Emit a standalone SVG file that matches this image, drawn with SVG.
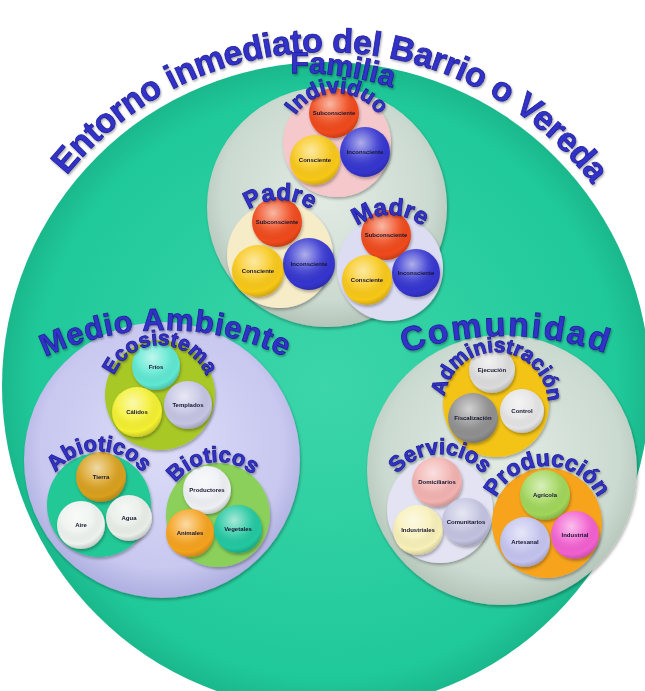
<svg xmlns="http://www.w3.org/2000/svg" xmlns:xlink="http://www.w3.org/1999/xlink" width="645" height="691" viewBox="0 0 645 691">
<style>
.lbl{font-family:"Liberation Sans",Arial,sans-serif;font-weight:bold;fill:#3232c8;stroke:#1f1f98;stroke-width:0.8;}
.t{font-family:"Liberation Sans",Arial,sans-serif;font-weight:bold;font-size:6px;fill:#151530;text-anchor:middle;}
.gl{fill:url(#gloss);}
.sm{filter:url(#sh);}
</style>
<defs>
<radialGradient id="gloss" cx="0.42" cy="0.32" r="0.72">
<stop offset="0" stop-color="#fff" stop-opacity="0.6"/>
<stop offset="0.45" stop-color="#fff" stop-opacity="0.12"/>
<stop offset="0.8" stop-color="#000" stop-opacity="0"/>
<stop offset="1" stop-color="#000" stop-opacity="0.22"/>
</radialGradient>
<radialGradient id="gTeal" cx="0.5" cy="0.5" r="0.5">
<stop offset="0" stop-color="#3cd6aa"/>
<stop offset="0.9" stop-color="#20c99a"/>
<stop offset="1" stop-color="#1ab88c"/>
</radialGradient>
<radialGradient id="gGrey" cx="0.5" cy="0.45" r="0.55">
<stop offset="0" stop-color="#e2ebe4"/>
<stop offset="0.8" stop-color="#cbdad0"/>
<stop offset="1" stop-color="#b3c4b8"/>
</radialGradient>
<radialGradient id="gLav" cx="0.5" cy="0.45" r="0.55">
<stop offset="0" stop-color="#dcdcf8"/>
<stop offset="0.8" stop-color="#c8c8f0"/>
<stop offset="1" stop-color="#aeaee0"/>
</radialGradient>
<filter id="sh" x="-30%" y="-30%" width="160%" height="160%">
<feDropShadow dx="1" dy="2" stdDeviation="1.5" flood-color="#000" flood-opacity="0.3"/>
</filter>
<filter id="tsh" x="-10%" y="-10%" width="120%" height="130%">
<feDropShadow dx="1" dy="1.5" stdDeviation="1" flood-color="#000" flood-opacity="0.35"/>
</filter>
<path id="pTitle" d="M -7.95 380.17 A 334 334 0 0 1 659.95 391.83"/>
<path id="pFam" d="M 3.1 331.25 A 300 300 0 0 1 597.3 414.75"/>
<path id="pInd" d="M 287 143 A 50 50 0 0 1 387 143"/>
<path id="pPad" d="M 225 255 A 55 55 0 0 1 335 255"/>
<path id="pMad" d="M 337 268 A 53 53 0 0 1 443 268"/>
<path id="pMed" d="M -115 610 A 280 280 0 0 1 445 610"/>
<path id="pEco" d="M 110 395 A 50 50 0 0 1 210 395"/>
<path id="pAbi" d="M 45 505 A 54 54 0 0 1 153 505"/>
<path id="pBio" d="M 164.3 520.6 A 54 54 0 0 1 271.7 509.4"/>
<path id="pCom" d="M 205 636 A 300 300 0 0 1 805 636"/>
<path id="pAdm" d="M 444.07 401.28 A 52 52 0 0 1 547.93 406.72"/>
<path id="pSer" d="M 384 510 A 56 56 0 0 1 496 510"/>
<path id="pPro" d="M 490 523 A 57 57 0 0 1 604 523"/>
</defs>
<rect width="645" height="691" fill="#fff"/>
<g id="connectors"></g>
<g id="entorno">
<circle cx="326" cy="386" r="324" fill="url(#gTeal)"/>
<text class="lbl" font-size="34" filter="url(#tsh)"><textPath xlink:href="#pTitle" href="#pTitle" startOffset="50%" text-anchor="middle" textLength="605" lengthAdjust="spacing">Entorno inmediato del Barrio o Vereda</textPath></text>
</g>
<g id="familia">
<circle cx="327" cy="207" r="120" fill="url(#gGrey)" filter="url(#sh)"/>
<g id="individuo">
<circle cx="337" cy="143" r="54" fill="#f5c9cc" filter="url(#sh)"/>
<g id="ind-sub" class="sm"><circle cx="334" cy="113" r="25" fill="#f04a1c"/><circle class="gl" cx="334" cy="113" r="25"/><text class="t" x="334" y="115">Subconsciente</text></g>
<g id="ind-con" class="sm"><circle cx="315" cy="160" r="25" fill="#f8c818"/><circle class="gl" cx="315" cy="160" r="25"/><text class="t" x="315" y="162">Consciente</text></g>
<g id="ind-inc" class="sm"><circle cx="365" cy="152" r="25" fill="#3535d0"/><circle class="gl" cx="365" cy="152" r="25"/><text class="t" x="365" y="154">Inconsciente</text></g>
<text class="lbl" font-size="22" filter="url(#tsh)"><textPath xlink:href="#pInd" href="#pInd" startOffset="50%" text-anchor="middle">Individuo</textPath></text>
</g>
<g id="padre">
<circle cx="280" cy="255" r="53" fill="#f7ecc8" filter="url(#sh)"/>
<g id="pad-sub" class="sm"><circle cx="277" cy="222" r="25" fill="#f04a1c"/><circle class="gl" cx="277" cy="222" r="25"/><text class="t" x="277" y="224">Subconsciente</text></g>
<g id="pad-con" class="sm"><circle cx="258" cy="271" r="26" fill="#f8c818"/><circle class="gl" cx="258" cy="271" r="26"/><text class="t" x="258" y="273">Consciente</text></g>
<g id="pad-inc" class="sm"><circle cx="309" cy="264" r="26" fill="#3535d0"/><circle class="gl" cx="309" cy="264" r="26"/><text class="t" x="309" y="266">Inconsciente</text></g>
<text class="lbl" font-size="24" filter="url(#tsh)"><textPath xlink:href="#pPad" href="#pPad" startOffset="50%" text-anchor="middle">Padre</textPath></text>
</g>
<g id="madre">
<circle cx="390" cy="268" r="53" fill="#dcdcf3" filter="url(#sh)"/>
<g id="mad-sub" class="sm"><circle cx="386" cy="235" r="25" fill="#f04a1c"/><circle class="gl" cx="386" cy="235" r="25"/><text class="t" x="386" y="237">Subconsciente</text></g>
<g id="mad-con" class="sm"><circle cx="367" cy="280" r="25" fill="#f8c818"/><circle class="gl" cx="367" cy="280" r="25"/><text class="t" x="367" y="282">Consciente</text></g>
<g id="mad-inc" class="sm"><circle cx="416" cy="273" r="24" fill="#3535d0"/><circle class="gl" cx="416" cy="273" r="24"/><text class="t" x="416" y="275">Inconsciente</text></g>
<text class="lbl" font-size="24" filter="url(#tsh)"><textPath xlink:href="#pMad" href="#pMad" startOffset="50%" text-anchor="middle">Madre</textPath></text>
</g>
<text class="lbl" font-size="30" filter="url(#tsh)"><textPath xlink:href="#pFam" href="#pFam" startOffset="50%" text-anchor="middle">Familia</textPath></text>
</g>
<g id="medio-ambiente">
<circle cx="162" cy="460" r="138" fill="url(#gLav)" filter="url(#sh)"/>
<g id="ecosistema">
<circle cx="160" cy="395" r="55" fill="#a8c828" filter="url(#sh)"/>
<g id="eco-frios" class="sm"><circle cx="156" cy="366" r="24" fill="#5ee8d2"/><circle class="gl" cx="156" cy="366" r="24"/><text class="t" x="156" y="369">Fríos</text></g>
<g id="eco-calidos" class="sm"><circle cx="137" cy="412" r="25" fill="#f4f030"/><circle class="gl" cx="137" cy="412" r="25"/><text class="t" x="137" y="414">Cálidos</text></g>
<g id="eco-templados" class="sm"><circle cx="188" cy="405" r="24" fill="#c4c4e4"/><circle class="gl" cx="188" cy="405" r="24"/><text class="t" x="188" y="407">Templados</text></g>
<text class="lbl" font-size="21" filter="url(#tsh)"><textPath xlink:href="#pEco" href="#pEco" startOffset="50%" text-anchor="middle">Ecosistema</textPath></text>
</g>
<g id="abioticos">
<circle cx="99" cy="505" r="52" fill="#22c896" filter="url(#sh)"/>
<g id="abi-tierra" class="sm"><circle cx="101" cy="477" r="25" fill="#d9a01e"/><circle class="gl" cx="101" cy="477" r="25"/><text class="t" x="101" y="479">Tierra</text></g>
<g id="abi-aire" class="sm"><circle cx="81" cy="525" r="24" fill="#eef3ef"/><circle class="gl" cx="81" cy="525" r="24"/><text class="t" x="81" y="527">Aire</text></g>
<g id="abi-agua" class="sm"><circle cx="129" cy="518" r="23" fill="#e8eee8"/><circle class="gl" cx="129" cy="518" r="23"/><text class="t" x="129" y="520">Agua</text></g>
<text class="lbl" font-size="22" filter="url(#tsh)"><textPath xlink:href="#pAbi" href="#pAbi" startOffset="50%" text-anchor="middle">Abioticos</textPath></text>
</g>
<g id="bioticos">
<circle cx="218" cy="515" r="52" fill="#8ad05a" filter="url(#sh)"/>
<g id="bio-productores" class="sm"><circle cx="207" cy="490" r="24" fill="#eef0f4"/><circle class="gl" cx="207" cy="490" r="24"/><text class="t" x="207" y="492">Productores</text></g>
<g id="bio-animales" class="sm"><circle cx="190" cy="533" r="24" fill="#f5a21e"/><circle class="gl" cx="190" cy="533" r="24"/><text class="t" x="190" y="535">Animales</text></g>
<g id="bio-vegetales" class="sm"><circle cx="238" cy="529" r="24" fill="#22c8a0"/><circle class="gl" cx="238" cy="529" r="24"/><text class="t" x="238" y="531">Vegetales</text></g>
<text class="lbl" font-size="22" filter="url(#tsh)"><textPath xlink:href="#pBio" href="#pBio" startOffset="50%" text-anchor="middle">Bioticos</textPath></text>
</g>
<text class="lbl" font-size="31" filter="url(#tsh)"><textPath xlink:href="#pMed" href="#pMed" startOffset="50%" text-anchor="middle" textLength="248" lengthAdjust="spacing">Medio Ambiente</textPath></text>
</g>
<g id="comunidad">
<circle cx="502" cy="470" r="135" fill="url(#gGrey)" filter="url(#sh)"/>
<g id="administracion">
<circle cx="496" cy="404" r="53" fill="#f3c314" filter="url(#sh)"/>
<g id="adm-ejecucion" class="sm"><circle cx="492" cy="370" r="23" fill="#dcdcdc"/><circle class="gl" cx="492" cy="370" r="23"/><text class="t" x="492" y="372">Ejecución</text></g>
<g id="adm-fiscalizacion" class="sm"><circle cx="473" cy="418" r="25" fill="#8f8f8f"/><circle class="gl" cx="473" cy="418" r="25"/><text class="t" x="473" y="420">Fiscalización</text></g>
<g id="adm-control" class="sm"><circle cx="522" cy="411" r="22" fill="#e4e4e4"/><circle class="gl" cx="522" cy="411" r="22"/><text class="t" x="522" y="413">Control</text></g>
<text class="lbl" font-size="21" filter="url(#tsh)"><textPath xlink:href="#pAdm" href="#pAdm" startOffset="50%" text-anchor="middle">Administración</textPath></text>
</g>
<g id="servicios">
<circle cx="440" cy="510" r="53" fill="#e3e3f3" filter="url(#sh)"/>
<g id="ser-domiciliarios" class="sm"><circle cx="437" cy="482" r="25" fill="#f2b2b0"/><circle class="gl" cx="437" cy="482" r="25"/><text class="t" x="437" y="484">Domiciliarios</text></g>
<g id="ser-industriales" class="sm"><circle cx="418" cy="530" r="25" fill="#f8f0b8"/><circle class="gl" cx="418" cy="530" r="25"/><text class="t" x="418" y="532">Industriales</text></g>
<g id="ser-comunitarios" class="sm"><circle cx="466" cy="522" r="24" fill="#c3c3e1"/><circle class="gl" cx="466" cy="522" r="24"/><text class="t" x="466" y="524">Comunitarios</text></g>
<text class="lbl" font-size="22" filter="url(#tsh)"><textPath xlink:href="#pSer" href="#pSer" startOffset="50%" text-anchor="middle">Servicios</textPath></text>
</g>
<g id="produccion">
<circle cx="547" cy="523" r="55" fill="#f7a41c" filter="url(#sh)"/>
<g id="pro-agricola" class="sm"><circle cx="545" cy="495" r="25" fill="#a0d65a"/><circle class="gl" cx="545" cy="495" r="25"/><text class="t" x="545" y="497">Agrícola</text></g>
<g id="pro-artesanal" class="sm"><circle cx="525" cy="542" r="25" fill="#c3c3ef"/><circle class="gl" cx="525" cy="542" r="25"/><text class="t" x="525" y="544">Artesanal</text></g>
<g id="pro-industrial" class="sm"><circle cx="575" cy="535" r="24" fill="#f260d0"/><circle class="gl" cx="575" cy="535" r="24"/><text class="t" x="575" y="537">Industrial</text></g>
<text class="lbl" font-size="23" filter="url(#tsh)"><textPath xlink:href="#pPro" href="#pPro" startOffset="50%" text-anchor="middle">Producción</textPath></text>
</g>
<text class="lbl" font-size="34" filter="url(#tsh)"><textPath xlink:href="#pCom" href="#pCom" startOffset="50%" text-anchor="middle" textLength="205" lengthAdjust="spacing">Comunidad</textPath></text>
</g>
</svg>
